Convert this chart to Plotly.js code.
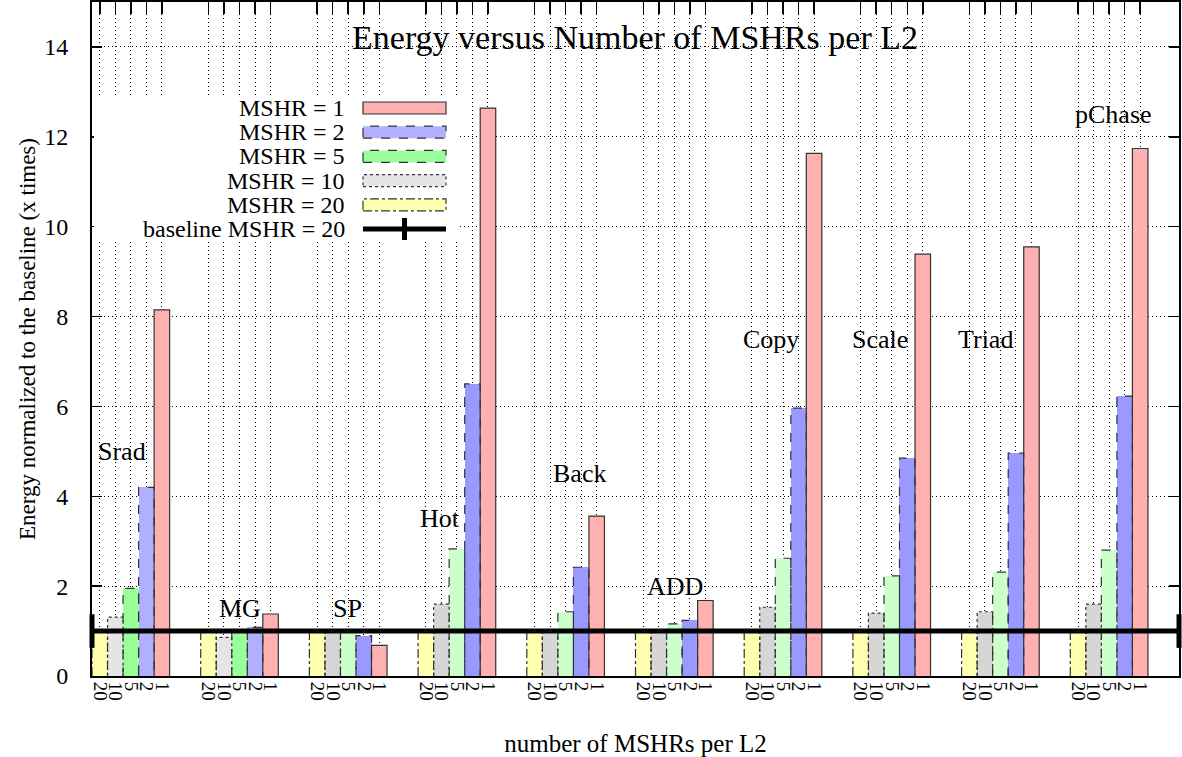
<!DOCTYPE html>
<html>
<head>
<meta charset="utf-8">
<script src="https://cdn.plot.ly/plotly-3.0.1.min.js"></script>
<style>
html,body{margin:0;padding:0;background:#fff;}
#chart{width:1182px;height:757px;}
</style>
</head>
<body>
<div id="chart"></div>
<script>
// ---------------- data ----------------
const benchmarks = ['Srad','MG','SP','Hot','Back','ADD','Copy','Scale','Triad','pChase'];
const mshrTickLabels = ['20','10','5','2','1'];
const seriesNames = ['MSHR = 20','MSHR = 10','MSHR = 5','MSHR = 2','MSHR = 1'];
const mshr20 = [1.00,1.00,1.00,1.00,1.00,1.00,1.00,1.00,1.00,1.00];
const mshr10 = [1.31,0.86,1.00,1.60,1.00,1.00,1.53,1.40,1.43,1.60];
const mshr5  = [1.95,1.00,1.00,2.83,1.43,1.16,2.62,2.23,2.31,2.80];
const mshr2  = [4.20,1.08,0.90,6.50,2.42,1.24,5.96,4.85,4.96,6.23];
const mshr1  = [8.15,1.38,0.68,12.64,3.56,1.68,11.63,9.39,9.55,11.74];
const baselineValue = 1;
const baselineName = 'baseline MSHR = 20';

// ---------------- styles / positions ----------------
const FONT = 'Liberation Serif, DejaVu Serif, Times New Roman, serif';
const slotsPerGroup = 7;           // 5 bars + 2 gap slots
const paletteA = ['#ffffb0','#e5e5e5','#99ff99','#b0b0ff','#ffb0b0'];
const paletteB = ['#ffffb0','#d6d6d6','#ccffcc','#9999ff','#ffb0b0'];
const groupPalette = [paletteA,paletteA,paletteB,paletteB,paletteB,paletteB,paletteB,paletteB,paletteB,paletteB];
const legendColors = ['#ffffb0','#e5e5e5','#99ff99','#b0b0ff','#ffb0b0'];
const seriesDash = ['dashdot','dot','dash','dash','solid'];
const GRID_DASH = '1px,3px';
const labelPos = { // benchmark label anchor positions (data coords)
  x: [1.43, 9.03, 15.98, 21.91, 30.92, 37.07, 43.22, 50.24, 57.03, 65.25],
  y: [5.0, 1.5, 1.5, 3.5, 4.5, 2.0, 7.5, 7.5, 7.5, 12.5]
};

const allSeries = [mshr20, mshr10, mshr5, mshr2, mshr1];
const nGroups = benchmarks.length;
const xMin = -0.5;
const xMax = (nGroups - 1) * slotsPerGroup + 4 + 0.5 + 2;

// plot area in px
const PL = 92, PR = 1179, PT = 2, PB = 676;
const W = 1182, H = 757;
const px2x = px => (px - PL) / (PR - PL);
const px2y = py => (PB - py) / (PB - PT);

const traces = [];
const tickvals = [], ticktext = [];
for (let g = 0; g < nGroups; g++) {
  for (let j = 0; j < 5; j++) {
    tickvals.push(g * slotsPerGroup + j);
    ticktext.push(mshrTickLabels[j]);
  }
}

allSeries.forEach((vals, j) => {
  const xs = vals.map((v, g) => g * slotsPerGroup + j);
  traces.push({
    type: 'bar', name: seriesNames[j], x: xs, y: vals, width: 1,
    marker: { color: vals.map((v, g) => groupPalette[g][j]), line: { width: 0 } },
    showlegend: false, hoverinfo: 'y'
  });
});
// bar outlines (dashed per series)
allSeries.forEach((vals, j) => {
  const ox = [], oy = [];
  vals.forEach((v, g) => {
    const c = g * slotsPerGroup + j;
    ox.push(c - 0.5, c - 0.5, c + 0.5, c + 0.5, null);
    oy.push(0, v, v, 0, null);
  });
  traces.push({
    type: 'scatter', mode: 'lines', x: ox, y: oy,
    line: { color: '#333', width: 1.2, dash: seriesDash[j] },
    showlegend: false, hoverinfo: 'skip'
  });
});
// baseline
traces.push({
  type: 'scatter', mode: 'lines+markers', name: baselineName,
  x: [xMin, xMax], y: [baselineValue, baselineValue], xaxis: 'x2',
  line: { color: '#000', width: 5 },
  marker: { symbol: 'line-ns', size: 24, line: { width: 5, color: '#000' } },
  cliponaxis: false, showlegend: false, hoverinfo: 'skip'
});

// ---------------- manual legend ----------------
const legendRows = [
  { name: 'MSHR = 1', idx: 4 },
  { name: 'MSHR = 2', idx: 3 },
  { name: 'MSHR = 5', idx: 2 },
  { name: 'MSHR = 10', idx: 1 },
  { name: 'MSHR = 20', idx: 0 }
];
const legendTop = 108, legendStep = 24.2, legTextRight = 347, sampX0 = 363, sampX1 = 446, sampH = 12;
const shapes = [];
const annotations = [];
shapes.push({ type: 'rect', xref: 'paper', yref: 'paper', layer: 'above',
  x0: px2x(94), x1: px2x(460), y0: px2y(96), y1: px2y(242),
  fillcolor: '#fff', line: { width: 0 } });
legendRows.forEach((r, i) => {
  const yc = legendTop + i * legendStep;
  annotations.push({ xref: 'paper', yref: 'paper', x: px2x(legTextRight), y: px2y(yc),
    xanchor: 'right', yanchor: 'middle', text: r.name, showarrow: false,
    font: { family: FONT, size: 24, color: '#000' } });
  shapes.push({ type: 'rect', xref: 'paper', yref: 'paper', layer: 'above',
    x0: px2x(sampX0), x1: px2x(sampX1), y0: px2y(yc + sampH / 2), y1: px2y(yc - sampH / 2),
    fillcolor: legendColors[r.idx], line: { color: '#333', width: 1.2, dash: seriesDash[r.idx] } });
});
{
  const yc = legendTop + 5 * legendStep;
  annotations.push({ xref: 'paper', yref: 'paper', x: px2x(legTextRight), y: px2y(yc),
    xanchor: 'right', yanchor: 'middle', text: baselineName, showarrow: false,
    font: { family: FONT, size: 24, color: '#000' } });
  shapes.push({ type: 'line', xref: 'paper', yref: 'paper', layer: 'above',
    x0: px2x(sampX0), x1: px2x(sampX1), y0: px2y(yc), y1: px2y(yc), line: { color: '#000', width: 5 } });
  shapes.push({ type: 'line', xref: 'paper', yref: 'paper', layer: 'above',
    x0: px2x((sampX0 + sampX1) / 2), x1: px2x((sampX0 + sampX1) / 2), y0: px2y(yc - 11), y1: px2y(yc + 11),
    line: { color: '#000', width: 5 } });
}
// benchmark labels
benchmarks.forEach((b, i) => {
  annotations.push({ x: labelPos.x[i], y: labelPos.y[i], xref: 'x', yref: 'y', text: b,
    showarrow: false, xanchor: 'center', yanchor: 'middle',
    font: { family: FONT, size: 26, color: '#000' } });
});

const layout = {
  width: W, height: H,
  margin: { l: PL, r: W - PR, t: PT, b: H - PB, pad: 0 },
  paper_bgcolor: '#fff', plot_bgcolor: '#fff',
  barmode: 'overlay', bargap: 0,
  showlegend: false,
  title: { text: 'Energy versus Number of MSHRs per L2', x: px2x(635) , xref: 'paper', xanchor: 'center',
    y: 1 - 37 / H, yref: 'container', yanchor: 'middle',
    font: { family: FONT, size: 34, color: '#000' } },
  xaxis: {
    range: [xMin, xMax], tickmode: 'array', tickvals: tickvals, ticktext: ticktext,
    tickangle: 90, ticks: '', showgrid: true, gridcolor: '#000', gridwidth: 1, griddash: GRID_DASH,
    showline: true, linecolor: '#000', linewidth: 2, mirror: true, zeroline: false,
    tickfont: { family: FONT, size: 19, color: '#000' },
    automargin: false,
    title: { text: 'number of MSHRs per L2', font: { family: FONT, size: 25, color: '#000' } }
  },
  xaxis2: {
    overlaying: 'x', side: 'top', matches: 'x', range: [xMin, xMax], tickmode: 'array', tickvals: tickvals,
    showticklabels: false, ticks: 'inside', ticklen: 12, tickwidth: 1.5, tickcolor: '#000',
    showgrid: false, showline: false, zeroline: false
  },
  yaxis: {
    range: [0, 15], tickmode: 'array', tickvals: [0,2,4,6,8,10,12,14],
    ticks: 'inside', ticklen: 10, tickwidth: 1.5, tickcolor: '#000',
    showgrid: true, gridcolor: '#000', gridwidth: 1, griddash: GRID_DASH,
    showline: true, linecolor: '#000', linewidth: 2, mirror: 'ticks', zeroline: false,
    tickfont: { family: FONT, size: 24, color: '#000' }, ticklabelstandoff: 17,
    automargin: false,
    title: { text: 'Energy normalized to the baseline (x times)', font: { family: FONT, size: 23, color: '#000' } }
  },
  shapes: shapes,
  annotations: annotations
};

Plotly.newPlot('chart', traces, layout, { displayModeBar: false, staticPlot: true });
</script>
</body>
</html>
